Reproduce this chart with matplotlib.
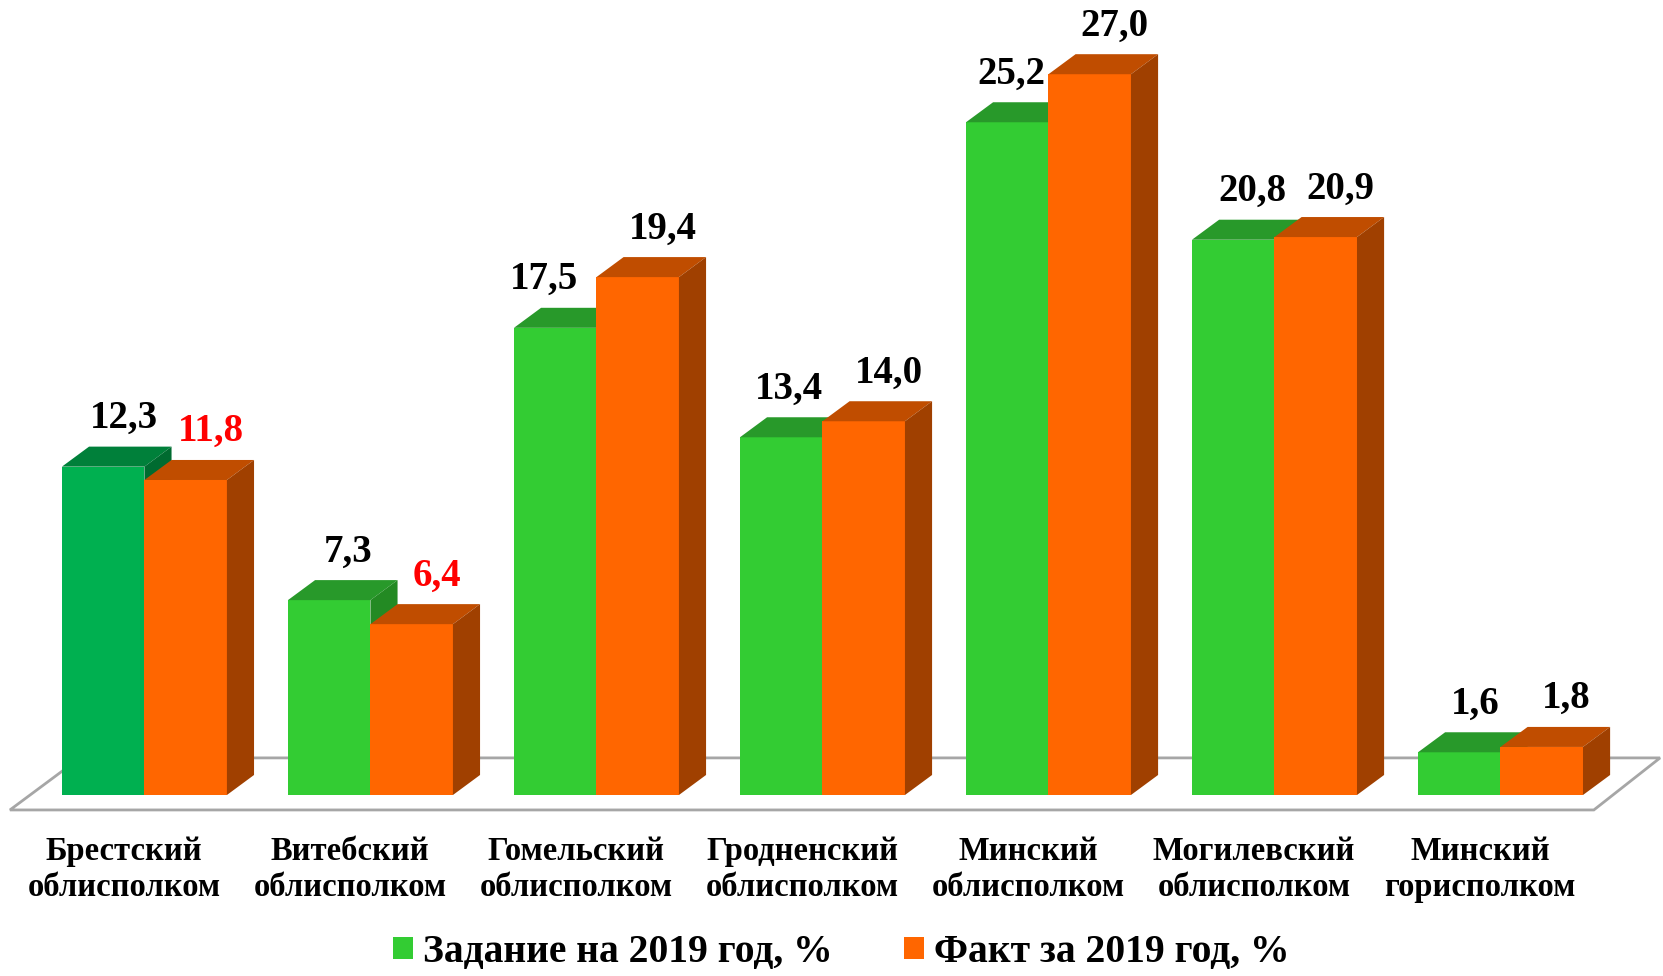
import matplotlib
matplotlib.use('Agg')
import matplotlib.pyplot as plt
from matplotlib.patches import Polygon, Patch

# data
categories = ['Брестский\nоблисполком', 'Витебский\nоблисполком', 'Гомельский\nоблисполком',
              'Гродненский\nоблисполком', 'Минский\nоблисполком', 'Могилевский\nоблисполком',
              'Минский\nгорисполком']
plan = [12.3, 7.3, 17.5, 13.4, 25.2, 20.8, 1.6]
fact = [11.8, 6.4, 19.4, 14.0, 27.0, 20.9, 1.8]
series_names = ['Задание на 2019 год, %', 'Факт за 2019 год, %']
fact_red = [True, True, False, False, False, False, False]

# label nudges for the green series (category units), as placed in the original
plan_label_dx = [0.094, 0.085, -0.049, 0.033, 0.018, 0.085, 0.071]

# face colours: front, top, side
GREEN = ('#33CC33', '#28992A', '#238A23')
GREEN_BREST = ('#00B050', '#00803A', '#006B30')
ORANGE = ('#FF6600', '#C04D00', '#A04000')

FONT = 'Liberation Serif'
W = 0.365      # bar width (category units)
DX = 0.12      # depth offset x
DY = 0.75      # depth offset y (value units)

fig = plt.figure(figsize=(16.63, 9.76), dpi=100)
ax = fig.add_axes([0, 0, 1, 1])
ax.set_xlim(-0.639, 6.719)
ax.set_ylim(-6.78, 29.78)
ax.axis('off')

# floor
n = len(categories)
floor = Polygon([(-0.595, -0.56), (n - 0.587, -0.56), (n - 0.294, 1.39), (-0.285, 1.39)],
                closed=True, facecolor='white', edgecolor='#A6A6A6', lw=2, zorder=1)
ax.add_patch(floor)


def bar3d(x0, v, cols, z):
    front, top, side = cols
    ax.add_patch(Polygon([(x0, 0), (x0 + W, 0), (x0 + W, v), (x0, v)],
                         facecolor=front, edgecolor='none', zorder=z))
    ax.add_patch(Polygon([(x0, v), (x0 + W, v), (x0 + W + DX, v + DY), (x0 + DX, v + DY)],
                         facecolor=top, edgecolor='none', zorder=z))
    ax.add_patch(Polygon([(x0 + W, 0), (x0 + W + DX, DY), (x0 + W + DX, v + DY), (x0 + W, v)],
                         facecolor=side, edgecolor='none', zorder=z))


def fmt(v):
    return f'{v:.1f}'.replace('.', ',')


for i in range(n):
    gcol = GREEN_BREST if i == 0 else GREEN
    bar3d(i - W, plan[i], gcol, 2)
    bar3d(i, fact[i], ORANGE, 3)
    ax.text(i - W / 2 + plan_label_dx[i], plan[i] + 1.45, fmt(plan[i]),
            ha='center', va='baseline', fontsize=28, fontweight='bold', family=FONT,
            color='black', zorder=5)
    ax.text(i + W / 2 + 0.11, fact[i] + 1.45, fmt(fact[i]),
            ha='center', va='baseline', fontsize=28, fontweight='bold', family=FONT,
            color='red' if fact_red[i] else 'black', zorder=5)
    ax.text(i - 0.09, -2.8, categories[i], ha='center', va='center', fontsize=23.5,
            fontweight='bold', family=FONT, linespacing=1.2)

handles = [Patch(facecolor=GREEN[0]), Patch(facecolor=ORANGE[0])]
fig.legend(handles, series_names, loc='center', bbox_to_anchor=(0.506, 0.024), ncol=2,
           frameon=False, handlelength=0.5, handleheight=0.5, handletextpad=0.25,
           columnspacing=1.8, borderpad=0.2, prop={'family': FONT, 'weight': 'bold', 'size': 28.5})

fig.savefig('out.png', dpi=100)
